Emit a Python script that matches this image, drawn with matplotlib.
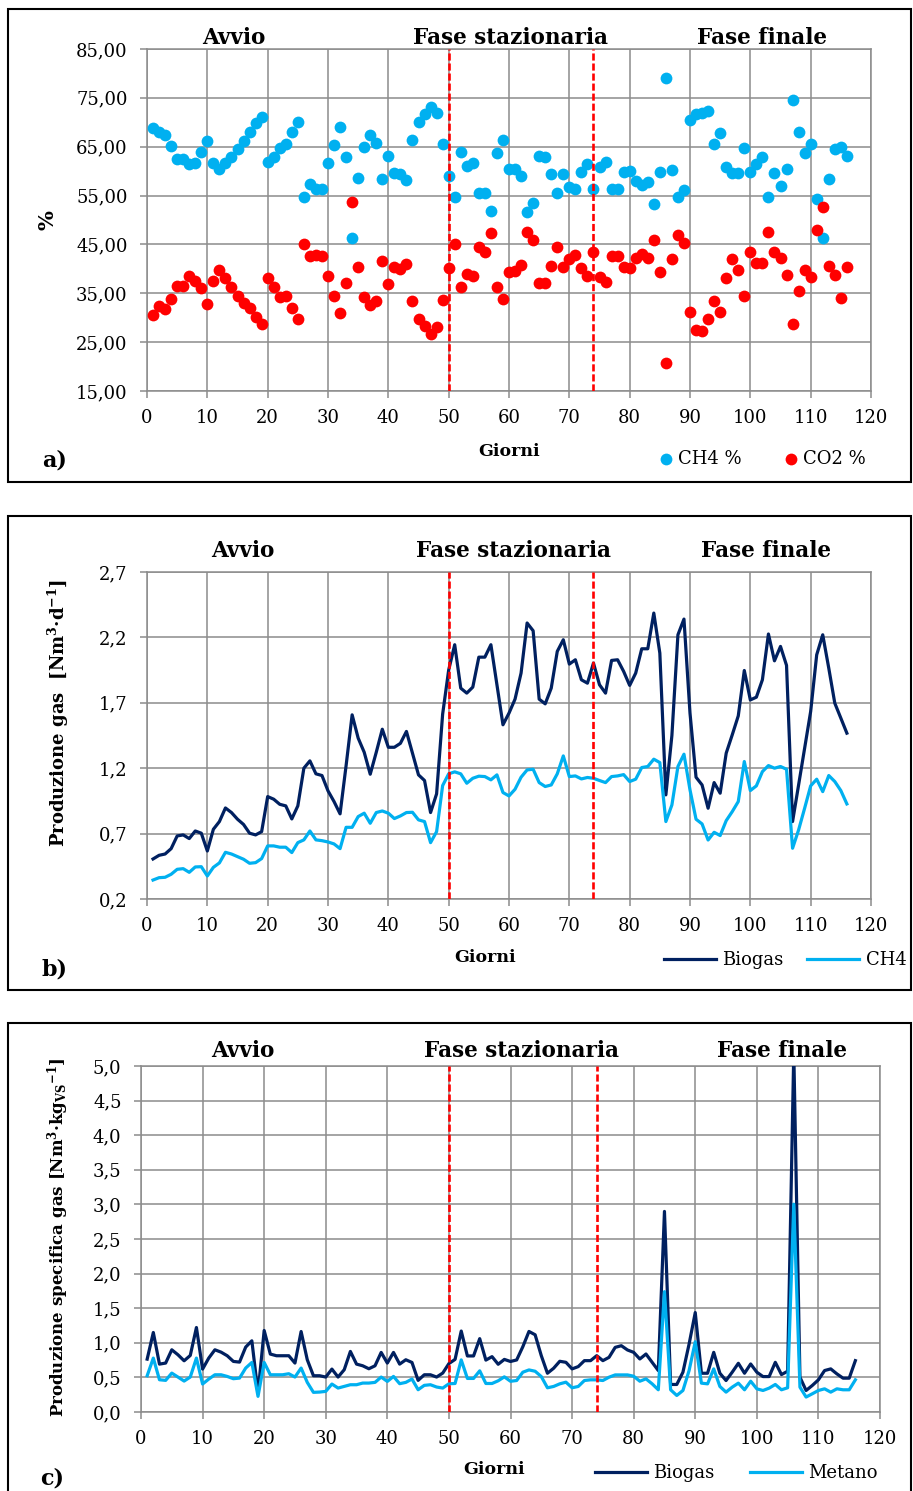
import numpy as np
import matplotlib
matplotlib.use("Agg")
import matplotlib.pyplot as plt
from matplotlib.patches import Rectangle
from matplotlib.lines import Line2D

plt.rcParams['font.family'] = ['DejaVu Serif']
plt.rcParams['mathtext.default'] = 'regular'

# ---------------- data ----------------
days = np.arange(1, 117)

ch4_pct = [68.8, 68.0, 67.4, 65.2, 62.5, 62.5, 61.4, 61.6, 64.0, 66.2,
           61.6, 60.4, 61.6, 62.8, 64.6, 66.1, 68.1, 69.8, 71.1, 61.8,
           62.8, 64.8, 65.6, 68.0, 70.1, 54.8, 57.3, 56.4, 56.3, 61.6,
           65.4, 69.0, 62.8, 46.4, 58.5, 65.0, 67.4, 65.7, 58.4, 63.0,
           59.7, 59.4, 58.2, 66.4, 70.0, 71.7, 73.2, 71.9, 65.5, 59.0,
           54.8, 64.0, 61.1, 61.6, 55.6, 55.6, 51.8, 63.7, 66.3, 60.5,
           60.5, 59.1, 51.6, 53.4, 63.0, 62.8, 59.4, 55.5, 59.4, 56.8,
           56.3, 59.9, 61.4, 56.4, 60.9, 61.8, 56.4, 56.4, 59.8, 60.0,
           57.9, 57.2, 57.7, 53.3, 59.8, 79.1, 60.3, 54.8, 56.2, 70.5,
           71.7, 71.9, 72.4, 65.6, 67.9, 60.9, 59.6, 59.6, 64.8, 59.9,
           61.4, 62.9, 54.8, 59.6, 57.0, 60.4, 74.5, 68.1, 63.7, 65.5,
           54.2, 46.4, 58.3, 64.5, 65.0, 63.0]

co2_pct = [30.5, 32.4, 31.8, 33.8, 36.5, 36.5, 38.6, 37.5, 36.1, 32.9,
           37.5, 39.8, 38.2, 36.3, 34.5, 33.1, 31.9, 30.2, 28.8, 38.2,
           36.3, 34.3, 34.5, 31.9, 29.7, 45.0, 42.7, 42.8, 42.7, 38.5,
           34.5, 31.0, 37.2, 53.6, 40.4, 34.3, 32.6, 33.5, 41.6, 37.0,
           40.4, 39.9, 41.0, 33.5, 29.8, 28.3, 26.6, 28.0, 33.7, 40.1,
           45.1, 36.2, 38.9, 38.5, 44.5, 43.4, 47.3, 36.3, 33.8, 39.4,
           39.6, 40.8, 47.6, 45.9, 37.2, 37.2, 40.6, 44.4, 40.4, 42.1,
           42.8, 40.1, 38.5, 43.5, 38.4, 37.4, 42.7, 42.7, 40.3, 40.1,
           42.3, 43.0, 42.3, 45.9, 39.3, 20.8, 42.0, 46.9, 45.2, 31.1,
           27.4, 27.3, 29.7, 33.5, 31.1, 38.2, 42.0, 39.8, 34.4, 43.4,
           41.3, 41.3, 47.6, 43.4, 42.3, 38.7, 28.8, 35.4, 39.8, 38.4,
           48.0, 52.7, 40.6, 38.7, 34.1, 40.4]

biogas_prod = [0.506, 0.534, 0.544, 0.585, 0.682, 0.690, 0.662, 0.720, 0.703, 0.567,
               0.733, 0.792, 0.896, 0.861, 0.810, 0.770, 0.703, 0.690, 0.715, 0.983,
               0.963, 0.924, 0.912, 0.812, 0.912, 1.200, 1.256, 1.157, 1.144, 1.027,
               0.945, 0.851, 1.220, 1.608, 1.430, 1.322, 1.154, 1.322, 1.498, 1.360,
               1.360, 1.390, 1.481, 1.315, 1.149, 1.106, 0.861, 1.004, 1.613, 1.950,
               2.144, 1.812, 1.774, 1.820, 2.049, 2.049, 2.144, 1.838, 1.532, 1.621,
               1.728, 1.927, 2.310, 2.251, 1.728, 1.692, 1.812, 2.093, 2.182, 1.996,
               2.029, 1.876, 1.850, 2.004, 1.838, 1.774, 2.024, 2.029, 1.940, 1.833,
               1.927, 2.113, 2.113, 2.386, 2.080, 0.996, 1.450, 2.220, 2.340, 1.621,
               1.131, 1.072, 0.894, 1.090, 1.009, 1.315, 1.455, 1.600, 1.947, 1.722,
               1.743, 1.876, 2.226, 2.021, 2.131, 1.986, 0.792, 1.072, 1.353, 1.634,
               2.067, 2.220, 1.965, 1.697, 1.583, 1.468]

ch4_prod = [0.345, 0.363, 0.366, 0.389, 0.427, 0.432, 0.404, 0.445, 0.447, 0.376,
            0.442, 0.476, 0.557, 0.544, 0.524, 0.504, 0.473, 0.478, 0.509, 0.606,
            0.606, 0.596, 0.596, 0.555, 0.631, 0.652, 0.720, 0.652, 0.646, 0.636,
            0.621, 0.585, 0.748, 0.748, 0.830, 0.856, 0.779, 0.861, 0.873, 0.856,
            0.815, 0.835, 0.861, 0.863, 0.805, 0.792, 0.631, 0.715, 1.067, 1.157,
            1.172, 1.157, 1.085, 1.123, 1.139, 1.136, 1.111, 1.149, 1.014, 0.988,
            1.039, 1.131, 1.187, 1.192, 1.090, 1.060, 1.072, 1.157, 1.294, 1.136,
            1.141, 1.118, 1.129, 1.123, 1.106, 1.090, 1.136, 1.141, 1.151, 1.098,
            1.116, 1.205, 1.213, 1.269, 1.243, 0.792, 0.919, 1.213, 1.307, 1.034,
            0.810, 0.774, 0.651, 0.710, 0.685, 0.799, 0.868, 0.945, 1.251, 1.029,
            1.065, 1.174, 1.220, 1.200, 1.213, 1.192, 0.588, 0.728, 0.894, 1.065,
            1.116, 1.021, 1.144, 1.098, 1.029, 0.927]

biogas_spec = [0.764, 1.149, 0.692, 0.707, 0.899, 0.827, 0.740, 0.817, 1.221, 0.620,
               0.779, 0.899, 0.865, 0.813, 0.731, 0.721, 0.938, 1.029, 0.274, 1.178,
               0.837, 0.813, 0.813, 0.813, 0.707, 1.163, 0.755, 0.524, 0.524, 0.505,
               0.620, 0.505, 0.611, 0.875, 0.692, 0.668, 0.625, 0.668, 0.861, 0.707,
               0.861, 0.692, 0.755, 0.716, 0.457, 0.538, 0.538, 0.505, 0.563, 0.700,
               0.760, 1.170, 0.810, 0.810, 1.060, 0.750, 0.800, 0.690, 0.760, 0.730,
               0.752, 0.943, 1.164, 1.116, 0.814, 0.560, 0.632, 0.733, 0.718, 0.623,
               0.656, 0.742, 0.742, 0.814, 0.742, 0.790, 0.934, 0.958, 0.896, 0.862,
               0.766, 0.838, 0.718, 0.599, 2.898, 0.398, 0.398, 0.575, 0.982, 1.437,
               0.560, 0.560, 0.862, 0.560, 0.455, 0.575, 0.704, 0.560, 0.694, 0.575,
               0.512, 0.512, 0.718, 0.541, 0.589, 5.200, 0.503, 0.311, 0.383, 0.465,
               0.599, 0.623, 0.551, 0.489, 0.489, 0.742]

metano_spec = [0.524, 0.779, 0.466, 0.457, 0.562, 0.505, 0.447, 0.505, 0.779, 0.404,
               0.476, 0.538, 0.538, 0.514, 0.481, 0.490, 0.635, 0.716, 0.226, 0.716,
               0.538, 0.538, 0.538, 0.553, 0.505, 0.635, 0.428, 0.284, 0.288, 0.298,
               0.404, 0.346, 0.370, 0.394, 0.394, 0.418, 0.418, 0.428, 0.505, 0.442,
               0.514, 0.409, 0.428, 0.476, 0.322, 0.385, 0.394, 0.361, 0.346, 0.408,
               0.412, 0.753, 0.485, 0.485, 0.595, 0.412, 0.412, 0.451, 0.508, 0.444,
               0.455, 0.575, 0.608, 0.589, 0.512, 0.350, 0.369, 0.407, 0.431, 0.350,
               0.369, 0.455, 0.465, 0.465, 0.455, 0.503, 0.536, 0.536, 0.536, 0.517,
               0.445, 0.479, 0.407, 0.321, 1.739, 0.321, 0.239, 0.311, 0.599, 1.015,
               0.417, 0.407, 0.623, 0.369, 0.287, 0.359, 0.417, 0.321, 0.445, 0.335,
               0.311, 0.345, 0.398, 0.321, 0.350, 3.003, 0.359, 0.216, 0.263, 0.311,
               0.335, 0.287, 0.335, 0.321, 0.321, 0.465]

phase_bounds = [50, 74]
phase_names = ["Avvio", "Fase stazionaria", "Fase finale"]

# ---------------- styling ----------------
W, H = 913, 1491
GRID = '#8c8c8c'
LIGHT = '#00b0f0'
DARK = '#002060'
RED = '#ff0000'

fig = plt.figure(figsize=(W / 100, H / 100), dpi=100)


def rect(left, top, right, bottom):
    return [left / W, 1 - bottom / H, (right - left) / W, (bottom - top) / H]


def fxy(x, y):
    return x / W, 1 - y / H


def style(ax, ymin, ymax, step, decimals):
    ax.set_xlim(0, 120)
    ax.set_ylim(ymin, ymax)
    ax.set_xticks(np.arange(0, 121, 10))
    yt = np.arange(ymin, ymax + step / 2, step)
    ax.set_yticks(yt)
    ax.set_yticklabels([f"{v:.{decimals}f}".replace('.', ',') for v in yt])
    ax.grid(True, color=GRID, lw=1.1)
    ax.set_axisbelow(True)
    for s in ax.spines.values():
        s.set_color(GRID)
        s.set_linewidth(1.1)
    ax.tick_params(axis='both', direction='out', length=5, width=1.1,
                   color=GRID, labelsize=13, labelcolor='black')
    ax.tick_params(axis='y', pad=9)
    ax.tick_params(axis='x', pad=8)
    for b in phase_bounds:
        ax.axvline(b, color=RED, lw=1.9, ls=(0, (2.7, 1.1)), zorder=6)


def panel_frame(top, bottom):
    fig.patches.append(Rectangle(fxy(8, bottom), (911 - 8) / W, (bottom - top) / H,
                                 transform=fig.transFigure, fill=False,
                                 ec='black', lw=1.5, clip_on=False))


def phase_titles(y, xs):
    for name, x in zip(phase_names, xs):
        fig.text(*fxy(x, y), name, ha='center', va='center',
                 fontsize=15.5, fontweight='bold')


# ---------------- panel a ----------------
panel_frame(9, 482)
ax1 = fig.add_axes(rect(147, 49, 871, 391))
style(ax1, 15, 85, 10, 2)
ax1.scatter(days, ch4_pct, s=72, color=LIGHT, lw=0, zorder=3, label="CH4 %")
ax1.scatter(days, co2_pct, s=72, color=RED, lw=0, zorder=4, label="CO2 %")
phase_titles(38, [234, 510, 762])
fig.text(*fxy(47, 220), "%", rotation=90, ha='center', va='center',
         fontsize=15, fontweight='bold')
fig.text(*fxy(509, 451), "Giorni", ha='center', va='center',
         fontsize=12.5, fontweight='bold')
fig.text(*fxy(55, 460), "a)", ha='center', va='center',
         fontsize=16, fontweight='bold')
ax1.legend(loc='center', bbox_to_anchor=fxy(763, 459), bbox_transform=fig.transFigure,
           ncol=2, frameon=False, fontsize=13, handlelength=0.7, handletextpad=0.3,
           columnspacing=2.4, borderpad=0, markerscale=1.0)

# ---------------- panel b ----------------
panel_frame(516, 990)
ax2 = fig.add_axes(rect(147, 572, 871, 899))
style(ax2, 0.2, 2.7, 0.5, 1)
ax2.plot(days, biogas_prod, color=DARK, lw=2.3, zorder=3, label="Biogas")
ax2.plot(days, ch4_prod, color=LIGHT, lw=2.3, zorder=4, label="CH4")
phase_titles(551, [243, 513, 766])
fig.text(*fxy(58, 713), "Produzione gas  [Nm$^{3}$·d$^{-1}$]", rotation=90,
         ha='center', va='center', fontsize=13, fontweight='bold')
fig.text(*fxy(485, 957), "Giorni", ha='center', va='center',
         fontsize=12.5, fontweight='bold')
fig.text(*fxy(54, 969), "b)", ha='center', va='center',
         fontsize=16, fontweight='bold')
ax2.legend(loc='center', bbox_to_anchor=fxy(785, 960), bbox_transform=fig.transFigure,
           ncol=2, frameon=False, fontsize=13, handlelength=2.9, handletextpad=0.35,
           columnspacing=1.3, borderpad=0)

# ---------------- panel c ----------------
panel_frame(1023, 1500)
ax3 = fig.add_axes(rect(141, 1066, 880, 1412))
style(ax3, 0.0, 5.0, 0.5, 1)
ax3.plot(days, biogas_spec, color=DARK, lw=2.3, zorder=3, label="Biogas")
ax3.plot(days, metano_spec, color=LIGHT, lw=2.3, zorder=4, label="Metano")
phase_titles(1051, [243, 521, 782])
fig.text(*fxy(58, 1237), "Produzione specifica gas [Nm$^{3}$·kg$_{VS}$$^{-1}$]",
         rotation=90, ha='center', va='center', fontsize=12, fontweight='bold')
fig.text(*fxy(494, 1470), "Giorni", ha='center', va='center',
         fontsize=12.5, fontweight='bold')
fig.text(*fxy(52, 1478), "c)", ha='center', va='center',
         fontsize=16, fontweight='bold')
ax3.legend(loc='center', bbox_to_anchor=fxy(736, 1473), bbox_transform=fig.transFigure,
           ncol=2, frameon=False, fontsize=13, handlelength=2.9, handletextpad=0.3,
           columnspacing=2.0, borderpad=0)

fig.savefig("out.png", dpi=100)
